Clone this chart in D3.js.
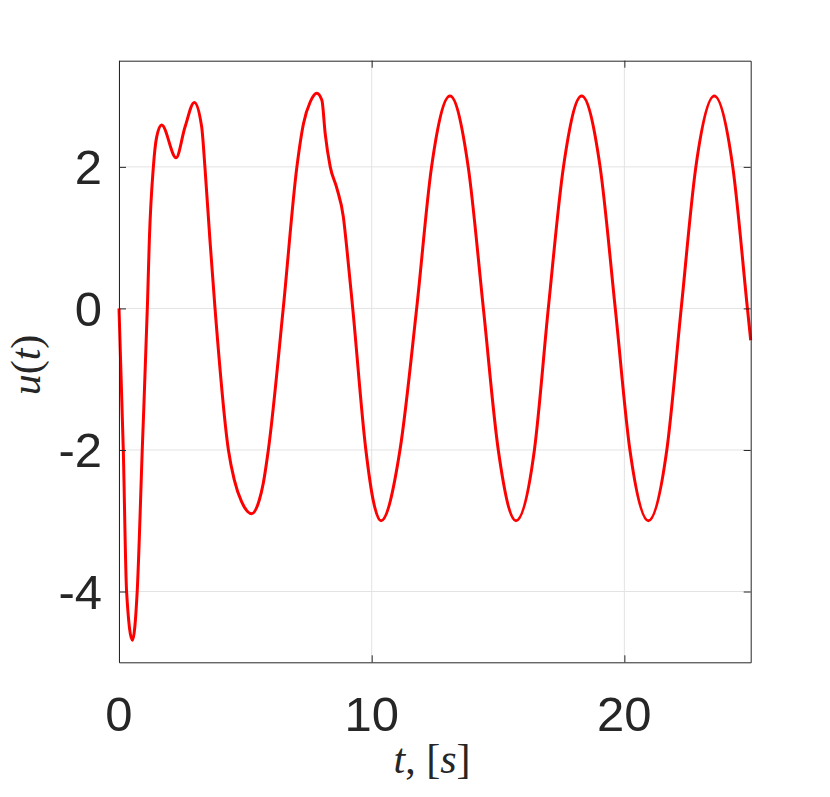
<!DOCTYPE html>
<html>
<head>
<meta charset="utf-8">
<script src="https://cdn.jsdelivr.net/npm/d3@7"></script>
<style>
  body { margin: 0; background: #fff; }
  svg { display: block; }
</style>
</head>
<body>
<svg width="830" height="797"></svg>
<script>
// readings: time in s, control u(t)
var tValues = [0, 0.17, 0.30, 0.53, 0.72, 0.92, 1.13, 1.20, 1.36, 1.49, 1.69, 2.26, 2.61, 2.98,
  3.27, 3.40, 3.60, 3.80, 4.33, 4.56, 4.85, 5.25, 5.55, 5.71, 5.91, 6.50, 7.04, 7.30, 7.57, 7.83,
  8.03, 8.16, 8.36, 8.62, 8.88, 9.01, 9.25, 9.77, 10.06, 10.37,
  11.12, 11.78, 12.37, 13.10, 13.82, 14.42, 15.01, 15.71, 16.44, 16.99, 17.59, 18.31,
  19.04, 19.64, 20.22, 20.95, 21.68, 22.25, 22.83, 23.56, 24.29, 24.87, 25.0];
var uValues = [0, -2.0, -4.0, -4.69, -4.0, -2.0, 0.1, 0.96, 2.0, 2.42, 2.59, 2.13, 2.56, 2.91,
  2.57, 2.0, 0.96, 0, -2.0, -2.42, -2.73, -2.90, -2.71, -2.47, -2.0, 0, 2.0, 2.61, 2.92, 3.04,
  2.94, 2.47, 2.0, 1.70, 1.29, 0.87, 0.0, -2.0, -2.71, -3.0,
  -2.0, 0, 2.0, 3.0, 2.0, 0, -2.0, -3.0, -2.0, 0, 2.0, 3.0,
  2.0, 0, -2.0, -3.0, -2.0, 0, 2.0, 3.0, 2.0, 0, -0.45];
var xTicks = [0, 10, 20];
var yTicks = [-4, -2, 0, 2];

var data = tValues.map(function(t, i) { return {t: t, u: uValues[i]}; });

var svg = d3.select("svg");
var plotLeft = 119, plotRight = 750.7, plotTop = 60.7, plotBottom = 662.3;
var axisColor = "#262626";

var x = d3.scaleLinear().domain([0, 25]).range([plotLeft, plotRight]);
var y = d3.scaleLinear().domain([-5, 3.5]).range([plotBottom, plotTop]);

// grid
svg.append("g").selectAll("line").data(xTicks).enter().append("line")
  .attr("x1", function(d) { return x(d); }).attr("x2", function(d) { return x(d); })
  .attr("y1", plotTop).attr("y2", plotBottom)
  .attr("stroke", "#e3e3e3").attr("stroke-width", 1);
svg.append("g").selectAll("line").data(yTicks).enter().append("line")
  .attr("y1", function(d) { return y(d); }).attr("y2", function(d) { return y(d); })
  .attr("x1", plotLeft).attr("x2", plotRight)
  .attr("stroke", "#e3e3e3").attr("stroke-width", 1);

var line = d3.line()
  .x(function(d) { return x(d.t); })
  .y(function(d) { return y(d.u); })
  .curve(d3.curveMonotoneX);

svg.append("path")
  .datum(data)
  .attr("fill", "none")
  .attr("stroke", "#ff0000")
  .attr("stroke-width", 3)
  .attr("stroke-linejoin", "round")
  .attr("d", line);

// axes, ticks point inward (matlab style box)
function colourAxis(g) { g.selectAll("path,line").attr("stroke", axisColor); }
svg.append("g")
  .attr("transform", "translate(0," + plotBottom + ")")
  .call(d3.axisBottom(x).tickValues(xTicks).tickSize(-7).tickSizeOuter(0).tickFormat(""))
  .call(colourAxis);
svg.append("g")
  .attr("transform", "translate(0," + plotTop + ")")
  .call(d3.axisTop(x).tickValues(xTicks).tickSize(-7).tickSizeOuter(0).tickFormat(""))
  .call(colourAxis);
svg.append("g")
  .attr("transform", "translate(" + plotLeft + ",0)")
  .call(d3.axisLeft(y).tickValues(yTicks).tickSize(-7).tickSizeOuter(0).tickFormat(""))
  .call(colourAxis);
svg.append("g")
  .attr("transform", "translate(" + plotRight + ",0)")
  .call(d3.axisRight(y).tickValues(yTicks).tickSize(-7).tickSizeOuter(0).tickFormat(""))
  .call(colourAxis);

// tick labels
svg.append("g").selectAll("text").data(xTicks).enter().append("text")
  .attr("x", function(d) { return x(d); })
  .attr("y", 731)
  .attr("text-anchor", "middle")
  .attr("font-family", "'Liberation Sans', Arial, sans-serif")
  .attr("font-size", 49)
  .attr("fill", axisColor)
  .text(function(d) { return d; });

svg.append("g").selectAll("text").data(yTicks).enter().append("text")
  .attr("x", 102)
  .attr("y", function(d) { return y(d); })
  .attr("dy", "0.35em")
  .attr("text-anchor", "end")
  .attr("font-family", "'Liberation Sans', Arial, sans-serif")
  .attr("font-size", 49)
  .attr("fill", axisColor)
  .text(function(d) { return d; });

// axis titles
var xl = svg.append("text")
  .attr("x", 432)
  .attr("y", 773)
  .attr("text-anchor", "middle")
  .attr("font-family", "'Liberation Serif', 'DejaVu Serif', serif")
  .attr("font-size", 42)
  .attr("fill", axisColor);
xl.append("tspan").attr("font-style", "italic").text("t");
xl.append("tspan").text(", [");
xl.append("tspan").attr("font-style", "italic").text("s");
xl.append("tspan").text("]");

var yl = svg.append("text")
  .attr("transform", "translate(40,365) rotate(-90)")
  .attr("text-anchor", "middle")
  .attr("font-family", "'Liberation Serif', 'DejaVu Serif', serif")
  .attr("font-size", 42)
  .attr("fill", axisColor);
yl.append("tspan").attr("font-style", "italic").text("u");
yl.append("tspan").text("(");
yl.append("tspan").attr("font-style", "italic").text("t");
yl.append("tspan").text(")");
</script>
</body>
</html>
